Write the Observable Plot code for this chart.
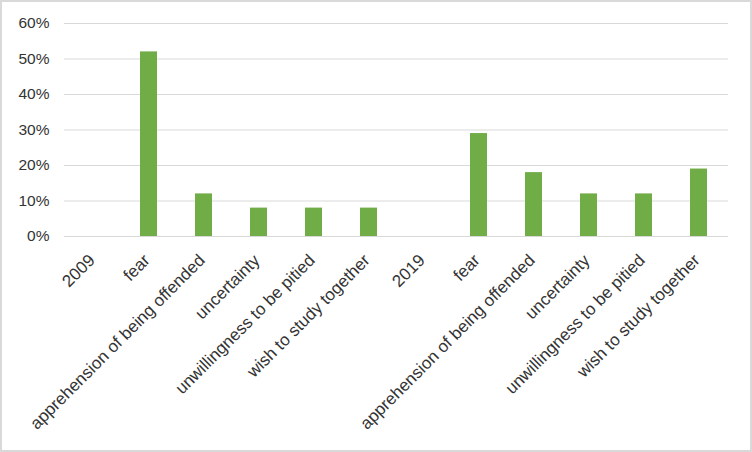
<!DOCTYPE html>
<html>
<head>
<meta charset="utf-8">
<script src="https://cdn.jsdelivr.net/npm/d3@7"></script>
<script src="https://cdn.jsdelivr.net/npm/@observablehq/plot@0.6"></script>
<style>
  html, body { margin: 0; padding: 0; background: #fff; }
  #frame { width: 748px; height: 448px; border: 2px solid #d9d9d9; background: #fff; }
  #frame svg { display: block; }
</style>
</head>
<body>
<div id="frame"></div>
<script>
const categories = [
  "2009", "fear", "apprehension of being offended", "uncertainty",
  "unwillingness to be pitied", "wish to study together",
  "2019", "fear", "apprehension of being offended", "uncertainty",
  "unwillingness to be pitied", "wish to study together"
];
const values = [null, 0.52, 0.12, 0.08, 0.08, 0.08, null, 0.29, 0.18, 0.12, 0.12, 0.19];
const yTicks = [0, 0.1, 0.2, 0.3, 0.4, 0.5, 0.6];

const data = categories.map((c, i) => ({i, label: c, value: values[i]}));

const chart = Plot.plot({
  width: 748,
  height: 448,
  marginLeft: 62,
  marginRight: 22,
  marginTop: 21,
  marginBottom: 214,
  style: {fontFamily: "'Liberation Sans', Arial, sans-serif", fontSize: "15px", color: "#333", background: "#fff"},
  x: {domain: d3.range(categories.length), paddingInner: 0.69, paddingOuter: 0.345, align: 0.5},
  y: {domain: [0, 0.6]},
  marks: [
    Plot.gridY(yTicks, {stroke: "#d9d9d9", strokeOpacity: 1, strokeWidth: 1}),
    Plot.barY(data.filter(d => d.value != null), {x: "i", y: "value", fill: "#70ad47"}),
    Plot.axisY(yTicks, {tickSize: 0, tickPadding: 15, fontSize: 15.5, tickFormat: d => Math.round(d * 100) + "%", fill: "#333", label: null}),
    Plot.axisX({tickSize: 0, tickPadding: 21, dx: -2, fontSize: 17, tickRotate: -45, tickFormat: i => categories[i], fill: "#333", label: null})
  ]
});
document.getElementById("frame").appendChild(chart);
</script>
</body>
</html>
